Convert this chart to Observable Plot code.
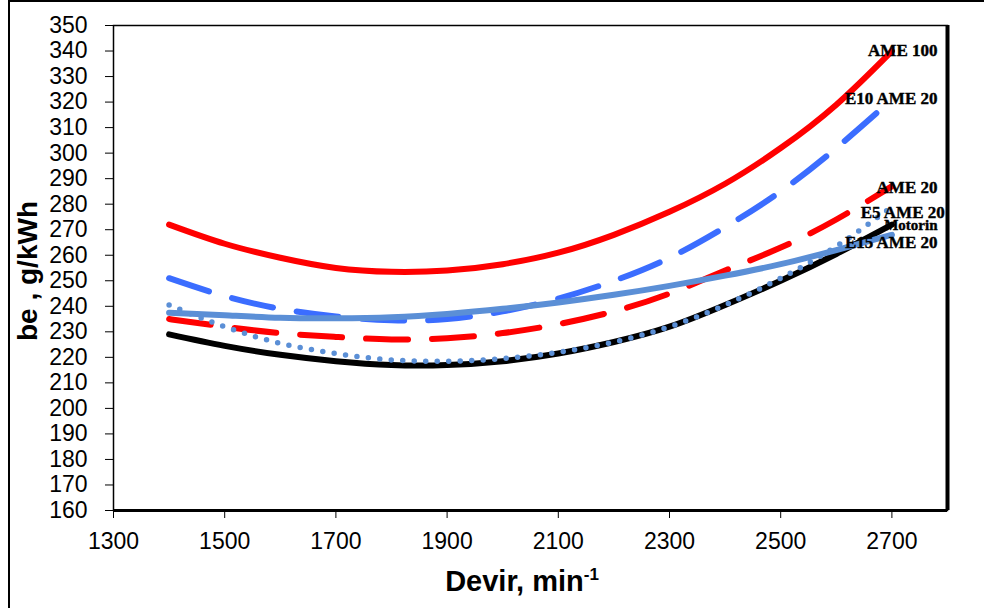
<!DOCTYPE html>
<html>
<head>
<meta charset="utf-8">
<script src="https://cdn.jsdelivr.net/npm/d3@7"></script>
<script src="https://cdn.jsdelivr.net/npm/@observablehq/plot@0.6"></script>
<style>
  html, body { margin: 0; padding: 0; background: #fff; }
  #wrap { position: relative; width: 984px; height: 608px; overflow: hidden; }
  #edge { position: absolute; left: 8px; top: 0px; width: 990px; height: 620px;
          border-left: 2px solid #000; border-top: 2px solid #000; pointer-events: none; }
</style>
</head>
<body>
<div id="wrap"><div id="edge"></div></div>
<script>
// Engine speed (min^-1) and specific fuel consumption be (g/kWh) per fuel
const rpm = [1400, 1500, 1600, 1700, 1800, 1900, 2000, 2100, 2200, 2300, 2400, 2500, 2600, 2700];
const ame100   = [272, 264.5, 259, 255, 253.5, 254, 256.5, 261, 268, 277, 288, 302, 319, 340];
const e10ame20 = [251, 244, 239, 236, 234.5, 235, 238, 243, 250, 259, 271, 285, 302, 321];
const ame20    = [235, 232, 229.5, 228, 227, 227.5, 229.5, 233, 238, 245, 254, 263, 274, 287];
const motorin  = [229, 224.5, 221, 218.5, 217, 217, 218.5, 221.5, 226, 232, 240.5, 250, 260.5, 272];
const e5ame20  = [240.5, 232, 225.5, 221.5, 219, 218.5, 219.5, 222, 226, 232, 240.5, 251, 263.5, 279];
const e15ame20 = [237.5, 236.5, 235.5, 235.3, 235.7, 237, 239, 241.5, 244.5, 248, 252, 256.5, 262, 268];

// Axis extents and ticks
const xDomain = [1300, 2800];
const yDomain = [160, 350];
const xTicks = [1300, 1500, 1700, 1900, 2100, 2300, 2500, 2700];
const yTicks = [160, 170, 180, 190, 200, 210, 220, 230, 240, 250, 260, 270, 280, 290, 300, 310, 320, 330, 340, 350];

// Series labels at the right end of the curves
const labelNames = ["AME 100", "E10 AME 20", "AME 20", "E5 AME 20", "Motorin", "E15 AME 20"];
const labelRpm   = [2782, 2782, 2782, 2795, 2782, 2782];
const labelBe    = [340.2, 321.4, 286.4, 276.8, 271.6, 264.8];

const rows = vals => rpm.map((r, i) => ({rpm: r, be: vals[i]}));

const series = [
  {vals: ame100,   stroke: "#ff0000", width: 6},
  {vals: e10ame20, stroke: "#3b6dff", width: 6, dash: "42 24"},
  {vals: ame20,    stroke: "#ff0000", width: 6, dash: "42 24"},
  {vals: motorin,  stroke: "#000000", width: 6},
  {vals: e5ame20,  stroke: "#5b8fd6", width: 5.5, dash: "0 11.5"},
  {vals: e15ame20, stroke: "#5b8fd6", width: 6}
];

const labels = labelNames.map((n, i) => ({name: n, rpm: labelRpm[i], be: labelBe[i]}));
const serif = "'Liberation Serif', 'Times New Roman', serif";

const chart = Plot.plot({
  width: 984,
  height: 608,
  marginLeft: 113,
  marginRight: 37,
  marginTop: 25,
  marginBottom: 98,
  style: {fontFamily: "'Liberation Sans', Arial, sans-serif", fontSize: "23px", color: "#000", background: "transparent"},
  x: {domain: xDomain, ticks: xTicks, tickSize: 8, tickPadding: 14, tickFormat: d => String(d), label: null},
  y: {domain: yDomain, ticks: yTicks, tickSize: 8, tickPadding: 18, tickFormat: d => String(d), label: null},
  marks: [
    Plot.frame({stroke: "#000", strokeWidth: 1.5}),
    Plot.ruleX([xDomain[1]], {stroke: "#000", strokeWidth: 4}),
    Plot.ruleY([yDomain[0]], {stroke: "#000", strokeWidth: 3}),
    ...series.map(s => Plot.line(rows(s.vals), {
      x: "rpm", y: "be", curve: "natural",
      stroke: s.stroke, strokeWidth: s.width,
      strokeDasharray: s.dash, strokeLinecap: "round"
    })),
    Plot.text(labels.filter(d => d.name !== "Motorin"), {
      x: "rpm", y: "be", text: "name", textAnchor: "end",
      fontFamily: serif, fontWeight: "bold", fontSize: 17,
      fill: "#000", stroke: "#000", strokeWidth: 0.4
    }),
    Plot.text(labels.filter(d => d.name === "Motorin"), {
      x: "rpm", y: "be", text: "name", textAnchor: "end",
      fontFamily: serif, fontWeight: "bold", fontSize: 15,
      fill: "#000", stroke: "#000", strokeWidth: 0.4
    })
  ]
});

// Axis titles
const svg = d3.select(chart);
svg.append("text")
  .attr("transform", "translate(37,271) rotate(-90)")
  .attr("text-anchor", "middle")
  .attr("font-family", "'Liberation Sans', Arial, sans-serif")
  .attr("font-weight", "bold").attr("font-size", 28)
  .text("be , g/kWh");
const xt = svg.append("text")
  .attr("x", 522).attr("y", 591)
  .attr("text-anchor", "middle")
  .attr("font-family", "'Liberation Sans', Arial, sans-serif")
  .attr("font-weight", "bold").attr("font-size", 29);
xt.append("tspan").text("Devir, min");
xt.append("tspan").attr("dy", -11).attr("font-size", 17).text("-1");

document.getElementById("wrap").prepend(chart);
</script>
</body>
</html>
